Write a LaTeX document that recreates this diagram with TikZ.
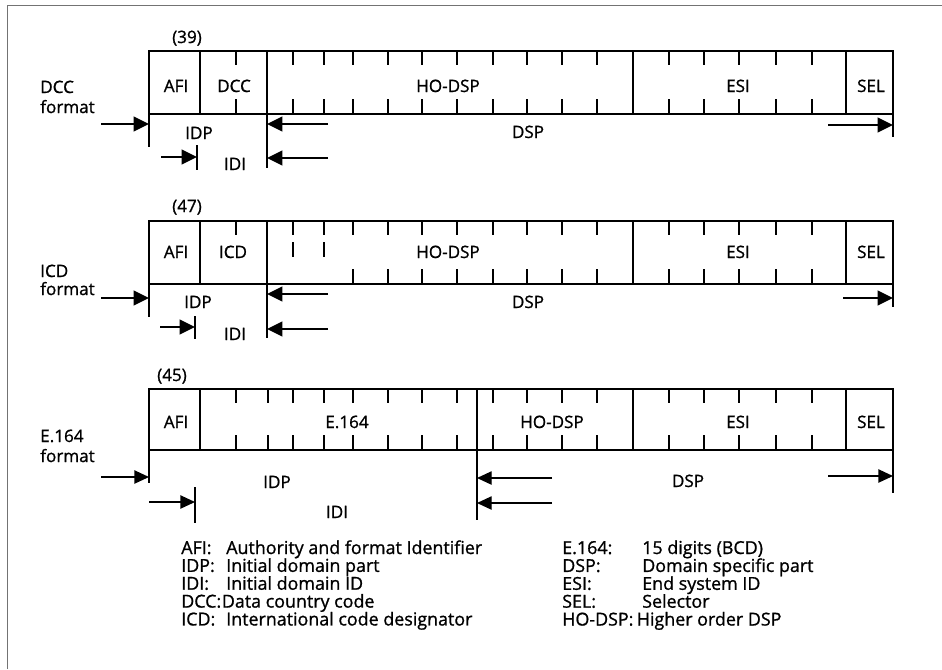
\documentclass[tikz,border=0pt]{standalone}
\usepackage{fontspec}
\setmainfont{Open Sans}[FakeBold=1.0]
\usetikzlibrary{arrows.meta}

\begin{document}
\begin{tikzpicture}[
        x=0.75pt, y=-0.75pt,
        field/.style={draw, line width=1.1pt},
        octet/.style={line width=0.9pt},
        endmark/.style={line width=1.1pt},
        lbl/.style={inner sep=0pt, anchor=base, font=\fontsize{12.8}{14}\selectfont},
        legend/.style={inner sep=0pt, anchor=base west, font=\fontsize{13.4}{10.7}\selectfont},
        dim/.style={-{Triangle[length=11.5pt,width=11pt]}, line width=1.6pt},
        thindim/.style={-{Triangle[length=11pt,width=10pt]}, line width=1pt}
    ]
        \useasboundingbox (0,0) rectangle (942,669);
        \draw[black!55, line width=0.6pt] (7,669) -- (7,5) -- (942,5);

        % DCC format
        \node[lbl, anchor=base west] (dccfmt) at (40,93) {DCC};
        \node[lbl, anchor=base west] (dccfmtb) at (40,113) {format};
        \node[lbl] (lenA) at (187,43) {(39)};
        \draw[field] (149,51) rectangle (893,114);
        \foreach \x in {200,267,633,846} \draw[field] (\x,51) -- (\x,114);
        \foreach \x in {236,293,324,353,388,422,457,493,527,562,597,669,704,739,776,812}
            {\draw[octet] (\x,51) -- ++(0,14); \draw[octet] (\x,114) -- ++(0,-15);}
        \node[lbl] (afiA) at (176,92) {AFI};
        \node[lbl] (dccA) at (234,92) {DCC};
        \node[lbl] (hodspA) at (448,92) {HO-DSP};
        \node[lbl] (esiA) at (738,92) {ESI};
        \node[lbl] (selA) at (871,92) {SEL};

        \coordinate (idpA0) at (101,124); \coordinate (idpA1) at (149,124);
        \coordinate (idiA0) at (161,157); \coordinate (idiA1) at (197,157);
        \coordinate (dspA0) at (328,124); \coordinate (dspA1) at (267,124);
        \coordinate (dspA2) at (328,158); \coordinate (dspA3) at (267,158);
        \coordinate (selA0) at (828,125); \coordinate (selA1) at (893,125);
        \draw[endmark] (149,114) -- (149,147);
        \draw[endmark] (197,145) -- (197,170);
        \draw[endmark] (267,114) -- (267,168);
        \draw[endmark] (893,114) -- (893,137);
        \draw[dim] (idpA0) -- (idpA1);
        \draw[dim] (idiA0) -- (idiA1);
        \draw[dim] (dspA0) -- (dspA1);
        \draw[dim] (dspA2) -- (dspA3);
        \draw[dim] (selA0) -- (selA1);
        \node[lbl] (idpA) at (199,139) {IDP};
        \node[lbl] (idiA) at (235,170) {IDI};
        \node[lbl] (dspA) at (528,138) {DSP};

        % ICD format
        \node[lbl, anchor=base west] (icdfmt) at (40,277) {ICD};
        \node[lbl, anchor=base west] (icdfmtb) at (40,295) {format};
        \node[lbl] (lenB) at (187,212) {(47)};
        \draw[field] (149,221) rectangle (893,284);
        \foreach \x in {200,267,633,846} \draw[field] (\x,221) -- (\x,284);
        \draw[octet] (236,221) -- ++(0,14);
        \foreach \x in {293,324}
            {\draw[octet] (\x,221) -- ++(0,14); \draw[octet] (\x,242) -- ++(0,15);}
        \foreach \x in {353,388,422,457,493,527,562,597,669,704,739,776,812}
            {\draw[octet] (\x,221) -- ++(0,14); \draw[octet] (\x,284) -- ++(0,-15);}
        \node[lbl] (afiB) at (176,258) {AFI};
        \node[lbl] (icdB) at (233,258) {ICD};
        \node[lbl] (hodspB) at (448,258) {HO-DSP};
        \node[lbl] (esiB) at (738,258) {ESI};
        \node[lbl] (selB) at (871,258) {SEL};

        \coordinate (idpB0) at (101,298); \coordinate (idpB1) at (149,298);
        \coordinate (idiB0) at (160,327); \coordinate (idiB1) at (195,327);
        \coordinate (dspB0) at (328,294); \coordinate (dspB1) at (267,294);
        \coordinate (dspB2) at (328,329); \coordinate (dspB3) at (267,329);
        \coordinate (selB0) at (843,298); \coordinate (selB1) at (893,298);
        \draw[endmark] (149,284) -- (149,317);
        \draw[endmark] (195,316) -- (195,339);
        \draw[endmark] (267,284) -- (267,338);
        \draw[endmark] (893,284) -- (893,307);
        \draw[dim] (idpB0) -- (idpB1);
        \draw[dim] (idiB0) -- (idiB1);
        \draw[dim] (dspB0) -- (dspB1);
        \draw[dim] (dspB2) -- (dspB3);
        \draw[dim] (selB0) -- (selB1);
        \node[lbl] (idpB) at (198,308) {IDP};
        \node[lbl] (idiB) at (235,340) {IDI};
        \node[lbl] (dspB) at (528,308) {DSP};

        % E.164 format
        \node[lbl, anchor=base west] (e164fmt) at (40,442) {E.164};
        \node[lbl, anchor=base west] (e164fmtb) at (40,462) {format};
        \node[lbl] (lenC) at (172,381) {(45)};
        \draw[field] (149,389) rectangle (893,450);
        \foreach \x in {200,477,633,846} \draw[field] (\x,389) -- (\x,450);
        \foreach \x in {236,268,293,324,353,388,422,457,493,527,562,597,669,704,739,776,812}
            {\draw[octet] (\x,389) -- ++(0,14); \draw[octet] (\x,450) -- ++(0,-15);}
        \node[lbl] (afiC) at (176,428) {AFI};
        \node[lbl] (e164C) at (347,428) {E.164};
        \node[lbl] (hodspC) at (552,428) {HO-DSP};
        \node[lbl] (esiC) at (738,428) {ESI};
        \node[lbl] (selC) at (871,428) {SEL};

        \coordinate (idpC0) at (101,477); \coordinate (idpC1) at (149,477);
        \coordinate (idiC0) at (149,502); \coordinate (idiC1) at (195,502);
        \coordinate (dspC0) at (552,478); \coordinate (dspC1) at (477,478);
        \coordinate (dspC2) at (552,503); \coordinate (dspC3) at (477,503);
        \coordinate (selC0) at (828,476); \coordinate (selC1) at (893,476);
        \draw[endmark] (149,450) -- (149,483);
        \draw[endmark] (195,487) -- (195,523);
        \draw[endmark] (477,450) -- (477,520);
        \draw[endmark] (893,450) -- (893,493);
        \draw[thindim] (idpC0) -- (idpC1);
        \draw[thindim] (idiC0) -- (idiC1);
        \draw[thindim] (dspC0) -- (dspC1);
        \draw[thindim] (dspC2) -- (dspC3);
        \draw[thindim] (selC0) -- (selC1);
        \node[lbl] (idpC) at (277,488) {IDP};
        \node[lbl] (idiC) at (337,518) {IDI};
        \node[lbl] (dspC) at (688,487) {DSP};

        % key
        \node[legend] (keyL) at (181,554) {\begin{tabular}[t]{@{}l@{}}
            \makebox[33.75pt][l]{AFI:}Authority and format Identifier\\
            \makebox[33.75pt][l]{IDP:}Initial domain part\\
            \makebox[33.75pt][l]{IDI:}Initial domain ID\\
            DCC:\hspace{0.5pt}Data country code\\
            \makebox[33.75pt][l]{ICD:}International code designator
        \end{tabular}};
        \node[legend] (keyR) at (562,554) {\begin{tabular}[t]{@{}l@{}}
            \makebox[60pt][l]{E.164:}15 digits (BCD)\\
            \makebox[60pt][l]{DSP:}Domain specific part\\
            \makebox[60pt][l]{ESI:}End system ID\\
            \makebox[60pt][l]{SEL:}Selector\\
            HO-DSP:\hspace{2.5pt}Higher order DSP
        \end{tabular}};
    \end{tikzpicture}
\end{document}
